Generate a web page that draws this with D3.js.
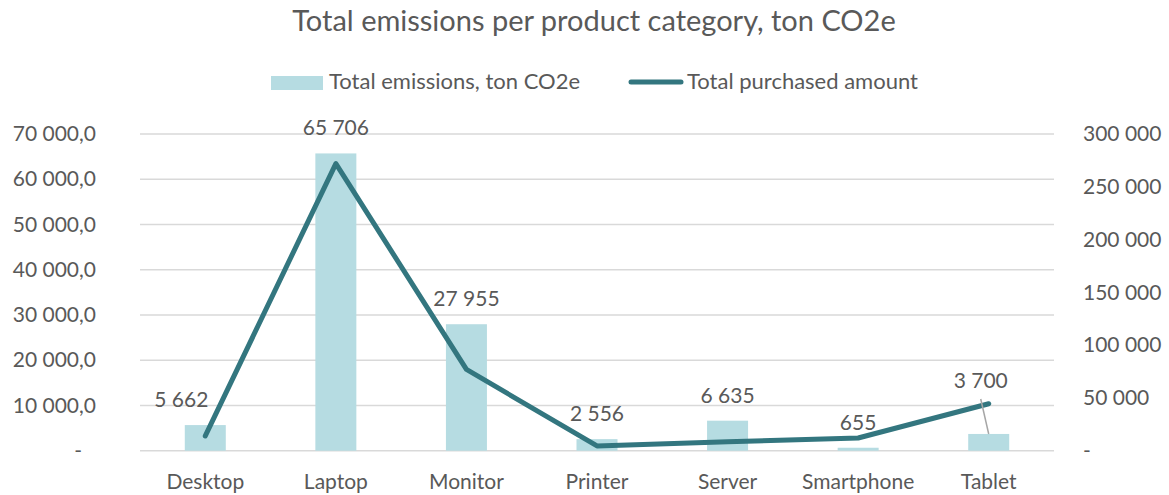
<!DOCTYPE html>
<html>
<head>
<meta charset="utf-8">
<script src="https://cdn.jsdelivr.net/npm/d3@7"></script>
<style>
  html, body { margin: 0; padding: 0; background: #fff; }
  svg text { font-family: Lato, "Open Sans", sans-serif; fill: #595959; }
</style>
</head>
<body>
<svg id="chart" width="1169" height="495"></svg>
<script>
// chart data
var categories = ['Desktop', 'Laptop', 'Monitor', 'Printer', 'Server', 'Smartphone', 'Tablet']
var emissions = [5662, 65706, 27955, 2556, 6635, 655, 3700]
var purchased = [14000, 272000, 77000, 4500, 8500, 12000, 44500]
var leftTicks = [0, 10000, 20000, 30000, 40000, 50000, 60000, 70000]
var rightTicks = [0, 50000, 100000, 150000, 200000, 250000, 300000]

var barColor = '#b6dce2'
var lineColor = '#33767f'

// label nudges (px) where the original moved labels by hand
var labelNudge = { Desktop: [-24, 0], Tablet: [-8, -28] }

var svg = d3.select('#chart')
var margin = { left: 140, right: 115, top: 134, bottom: 44 }
var width = 1169, height = 495

var x = d3.scaleBand()
  .domain(categories)
  .range([margin.left, width - margin.right])
  .paddingInner(0.686)
  .paddingOuter(0.343)
var y = d3.scaleLinear().domain([0, 70000]).range([450.7, margin.top])
var y2 = d3.scaleLinear().domain([0, 300000]).range([450.7, margin.top])

var locale = d3.formatLocale({ decimal: ',', thousands: ' ', grouping: [3], currency: ['', ''] })
var fmtLeft = locale.format(',.1f')
var fmtRight = locale.format(',.0f')
var fmtLabel = locale.format(',.0f')

// title
svg.append('text')
  .attr('x', 594).attr('y', 31)
  .attr('text-anchor', 'middle')
  .attr('font-size', '29px')
  .text('Total emissions per product category, ton CO2e')

// legend
var legend = svg.append('g')
legend.append('rect')
  .attr('x', 271).attr('y', 76).attr('width', 52).attr('height', 14)
  .attr('fill', barColor)
legend.append('text')
  .attr('x', 329).attr('y', 89)
  .attr('font-size', '22px')
  .text('Total emissions, ton CO2e')
legend.append('line')
  .attr('x1', 631).attr('x2', 681).attr('y1', 82).attr('y2', 82)
  .attr('stroke', lineColor).attr('stroke-width', 5).attr('stroke-linecap', 'round')
legend.append('text')
  .attr('x', 687).attr('y', 89)
  .attr('font-size', '22px')
  .text('Total purchased amount')

// gridlines
svg.append('g')
  .selectAll('line')
  .data(leftTicks)
  .join('line')
  .attr('x1', margin.left).attr('x2', width - margin.right)
  .attr('y1', d => y(d)).attr('y2', d => y(d))
  .attr('stroke', '#d9d9d9').attr('stroke-width', 1.5)

// left axis
var leftAxis = svg.append('g')
  .attr('transform', 'translate(' + margin.left + ',0)')
  .call(d3.axisLeft(y).tickValues(leftTicks).tickSize(0).tickPadding(44)
    .tickFormat(d => d === 0 ? '-' : fmtLeft(d)))
leftAxis.select('.domain').remove()
leftAxis.selectAll('text')
  .attr('font-size', '21px').attr('font-family', null).attr('fill', '#595959')
  .attr('dx', d => d === 0 ? -14 : 0)

// right axis
var rightAxis = svg.append('g')
  .attr('transform', 'translate(' + (width - margin.right) + ',0)')
  .call(d3.axisRight(y2).tickValues(rightTicks).tickSize(0).tickPadding(29)
    .tickFormat(d => d === 0 ? '-' : fmtRight(d)))
rightAxis.select('.domain').remove()
rightAxis.selectAll('text')
  .attr('font-size', '21px').attr('font-family', null).attr('fill', '#595959')

// category axis
var xAxis = svg.append('g')
  .attr('transform', 'translate(0,450.7)')
  .call(d3.axisBottom(x).tickSize(0).tickPadding(23))
xAxis.select('.domain').remove()
xAxis.selectAll('text')
  .attr('font-size', '21px').attr('font-family', null).attr('fill', '#595959')

// bars
svg.append('g')
  .selectAll('rect')
  .data(categories)
  .join('rect')
  .attr('x', d => x(d))
  .attr('width', x.bandwidth())
  .attr('y', (d, i) => y(emissions[i]))
  .attr('height', (d, i) => y(0) - y(emissions[i]))
  .attr('fill', barColor)

// line
var line = d3.line()
  .x(d => x(d) + x.bandwidth() / 2)
  .y((d, i) => y2(purchased[i]))
svg.append('path')
  .datum(categories)
  .attr('d', line)
  .attr('fill', 'none')
  .attr('stroke', lineColor)
  .attr('stroke-width', 5)
  .attr('stroke-linejoin', 'round')
  .attr('stroke-linecap', 'round')

// data labels
var labels = svg.append('g')
categories.forEach(function (c, i) {
  var nudge = labelNudge[c] || [0, 0]
  var cx = x(c) + x.bandwidth() / 2
  var top = y(emissions[i])
  var lx = cx + nudge[0]
  var ly = top - 25 + nudge[1]
  if (nudge[1] !== 0) {
    // leader line from the moved label back to the bar
    labels.append('line')
      .attr('x1', lx).attr('y1', ly + 18)
      .attr('x2', cx).attr('y2', top)
      .attr('stroke', '#a6a6a6').attr('stroke-width', 1.5)
  }
  labels.append('text')
    .attr('x', lx).attr('y', ly + 7)
    .attr('text-anchor', 'middle')
    .attr('font-size', '21px')
    .text(fmtLabel(emissions[i]))
})
</script>
</body>
</html>
